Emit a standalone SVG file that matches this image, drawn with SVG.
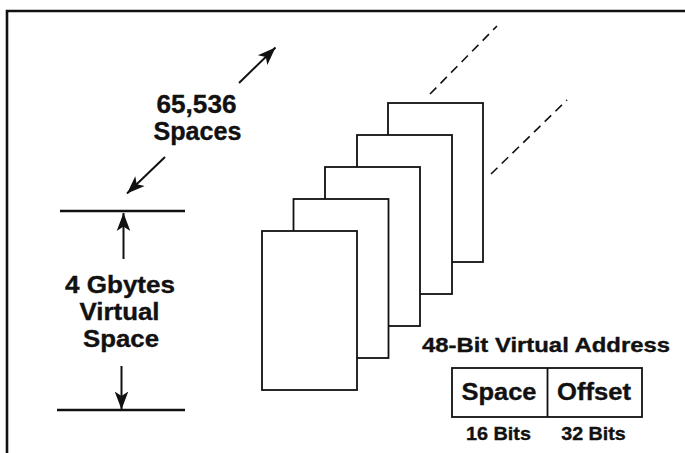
<svg xmlns="http://www.w3.org/2000/svg" width="685" height="453" viewBox="0 0 685 453">
<style>
  text { font-family: "Liberation Sans", Arial, Helvetica, sans-serif; font-weight: bold; fill: #111; stroke: #111; stroke-width: 0.35; text-anchor: middle; }
  .ln { stroke: #111; fill: none; }
  .page { fill: #fff; stroke: #111; stroke-width: 1.8; }
  .dash { stroke: #111; stroke-width: 1.6; stroke-dasharray: 9 6; fill: none; }
</style>
<defs>
  <marker id="ah" markerUnits="userSpaceOnUse" markerWidth="20" markerHeight="16" refX="18" refY="8" orient="auto">
    <path d="M0,1.2 L18,8 L0,14.8 L4.5,8 z" fill="#111"/>
  </marker>
</defs>
<rect width="685" height="453" fill="#fff"/>
<!-- frame -->
<path class="ln" d="M7,453 L7,11 L685,11" stroke-width="2.6"/>

<g id="connectors">
  <line class="ln" x1="239" y1="83" x2="275.5" y2="47.5" stroke-width="2" marker-end="url(#ah)"/>
  <line class="ln" x1="165" y1="157" x2="127" y2="193.5" stroke-width="2" marker-end="url(#ah)"/>
  <line class="ln" x1="123.5" y1="259" x2="123.5" y2="213" stroke-width="2" marker-end="url(#ah)"/>
  <line class="ln" x1="121.5" y1="366" x2="121.5" y2="409.5" stroke-width="2" marker-end="url(#ah)"/>
  <line class="dash" x1="430" y1="94" x2="497" y2="26"/>
  <line class="dash" x1="491" y1="174" x2="567" y2="100"/>
</g>

<g id="limits">
  <line class="ln" x1="60" y1="211" x2="185" y2="211" stroke-width="2.4"/>
  <line class="ln" x1="57" y1="410" x2="185" y2="410" stroke-width="2.4"/>
</g>

<g id="label-spaces">
  <text x="196.5" y="112.5" font-size="25" textLength="80" lengthAdjust="spacingAndGlyphs">65,536</text>
  <text x="197.5" y="140" font-size="25" textLength="88" lengthAdjust="spacingAndGlyphs">Spaces</text>
</g>

<g id="label-gbytes">
  <text x="120" y="292.5" font-size="23" textLength="110" lengthAdjust="spacingAndGlyphs">4 Gbytes</text>
  <text x="119.5" y="320" font-size="23" textLength="80" lengthAdjust="spacingAndGlyphs">Virtual</text>
  <text x="121" y="347" font-size="23" textLength="76" lengthAdjust="spacingAndGlyphs">Space</text>
</g>

<g id="spaces-stack">
  <rect id="space5" class="page" x="388" y="103" width="95" height="159"/>
  <rect id="space4" class="page" x="357" y="135" width="95" height="159"/>
  <rect id="space3" class="page" x="325" y="167" width="95" height="159"/>
  <rect id="space2" class="page" x="293.5" y="199" width="95" height="159"/>
  <rect id="space1" class="page" x="262" y="231" width="95" height="159"/>
</g>

<g id="address">
  <text x="546" y="351.5" font-size="20.5" textLength="248" lengthAdjust="spacingAndGlyphs">48-Bit Virtual Address</text>
  <rect class="page" x="452" y="368" width="190" height="49"/>
  <line class="ln" x1="547.5" y1="368" x2="547.5" y2="417" stroke-width="1.8"/>
  <text x="499" y="399.5" font-size="23" textLength="75" lengthAdjust="spacingAndGlyphs">Space</text>
  <text x="594" y="399.5" font-size="23" textLength="74" lengthAdjust="spacingAndGlyphs">Offset</text>
  <text x="498.5" y="439.5" font-size="18.5" textLength="65" lengthAdjust="spacingAndGlyphs">16 Bits</text>
  <text x="593.5" y="439.5" font-size="18.5" textLength="64.5" lengthAdjust="spacingAndGlyphs">32 Bits</text>
</g>
</svg>
